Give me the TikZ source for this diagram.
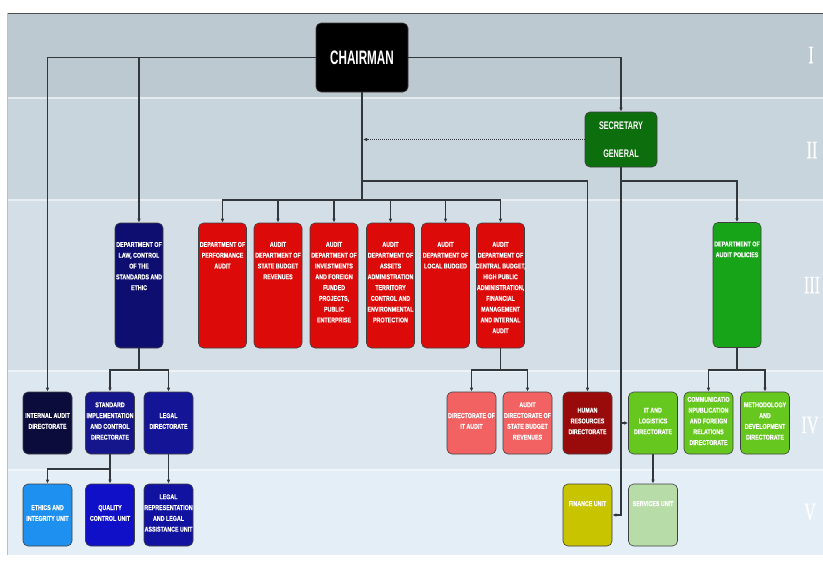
\documentclass[tikz,border=0pt]{standalone}
\usepackage{fontspec}
\setmainfont{Liberation Sans}
\newfontfamily\boxfont[FakeStretch=0.76,FakeBold=0.4]{Liberation Sans}
\newfontfamily\chairfont[FakeStretch=0.6]{Liberation Sans}
\newfontfamily\secfont[FakeStretch=0.66]{Liberation Sans}
\newfontfamily\romanfont[FakeStretch=0.65,FakeBold=0.5]{Liberation Serif}
\usetikzlibrary{arrows.meta}
\definecolor{bandI}{RGB}{189,201,209}
\definecolor{bandII}{RGB}{201,213,221}
\definecolor{bandIII}{RGB}{211,222,231}
\definecolor{bandIV}{RGB}{220,231,240}
\definecolor{bandV}{RGB}{228,238,247}
\definecolor{cLine}{RGB}{50,55,60}
\definecolor{cSec}{RGB}{12,110,12}
\definecolor{cLaw}{RGB}{14,14,112}
\definecolor{cRed}{RGB}{221,10,10}
\definecolor{cPol}{RGB}{24,164,24}
\definecolor{cIA}{RGB}{12,12,60}
\definecolor{cStd}{RGB}{22,22,140}
\definecolor{cLegal}{RGB}{20,20,150}
\definecolor{cEth}{RGB}{30,144,240}
\definecolor{cQC}{RGB}{16,16,200}
\definecolor{cLRep}{RGB}{18,18,160}
\definecolor{cSalmon}{RGB}{242,98,98}
\definecolor{cHR}{RGB}{153,10,10}
\definecolor{cLime}{RGB}{102,200,30}
\definecolor{cFin}{RGB}{200,196,0}
\definecolor{cServ}{RGB}{184,220,168}
\newcommand\tallbox[1]{\parbox[c][125pt][t]{48pt}{\centering\vspace*{19pt}#1}}
\newcommand\rowbox[1]{\parbox[c][62pt][c]{49pt}{\centering #1\par\vspace{4pt}}}
\newcommand\wideln[1]{\makebox[46pt][c]{#1}}
\tikzset{
  box/.style={draw=black!75, line width=0.6pt, rounded corners=5pt, inner sep=0pt,
    text=white, font=\boxfont\bfseries\fontsize{7}{10.8}\selectfont},
  line/.style={draw=cLine, line width=1.1pt},
  conn/.style={line, -{Latex[length=4pt,width=3.5pt]}},
  roman/.style={text=white, font=\romanfont\fontsize{25}{25}\selectfont, inner sep=0pt}
}
\begin{document}
\begin{tikzpicture}[x=1pt,y=-1pt]
\useasboundingbox (0,0) rectangle (823,563);
\fill[white] (0,0) rectangle (823,563);
% bands
\fill[bandI] (7,13) rectangle (823,97);
\fill[bandII] (7,97) rectangle (823,199);
\fill[bandIII] (7,199) rectangle (823,370);
\fill[bandIV] (7,370) rectangle (823,469);
\fill[bandV] (7,469) rectangle (823,555);
\foreach \yy in {97,199,370,469} \draw[white, opacity=0.5, line width=1.5pt] (7,\yy+1) -- (823,\yy+1);
\draw[black!70, line width=0.9pt] (7,13) -- (823,13);
\draw[black!25, line width=0.8pt] (7,13) -- (7,555);
% roman numerals
\node[roman] (n1) at (811,55) {I};
\node[roman] (n2) at (812,150) {II};
\node[roman] (n3) at (812,285) {III};
\node[roman] (n4) at (810,425) {IV};
\node[roman] (n5) at (810,512) {V};
% level I, II
\node[box, fill=black, minimum width=92pt, minimum height=69pt, font=\chairfont\bfseries\fontsize{19.5}{20}\selectfont] (chair) at (362,57.5) {CHAIRMAN};
\node[box, fill=cSec, minimum width=72pt, minimum height=55pt, align=center, font=\secfont\bfseries\fontsize{11}{28}\selectfont] (sec) at (621,139.5) {SECRETARY\\GENERAL};
% level III
\node[box, fill=cLaw] (law) at (139,285.5) {\tallbox{DEPARTMENT OF\\LAW, CONTROL\\OF THE\\STANDARDS AND\\ETHIC}};
\node[box, fill=cRed] (r1) at (222.5,285.5) {\tallbox{DEPARTMENT OF\\PERFORMANCE\\AUDIT}};
\node[box, fill=cRed] (r2) at (278,285.5) {\tallbox{AUDIT\\DEPARTMENT OF\\STATE BUDGET\\REVENUES}};
\node[box, fill=cRed] (r3) at (334,285.5) {\tallbox{AUDIT\\DEPARTMENT OF\\INVESTMENTS\\AND FOREIGN\\FUNDED\\PROJECTS,\\PUBLIC\\ENTERPRISE}};
\node[box, fill=cRed] (r4) at (390.5,285.5) {\tallbox{AUDIT\\DEPARTMENT OF\\ASSETS\\\wideln{ADMINISTRATION}\\TERRITORY\\CONTROL AND\\\wideln{ENVIRONMENTAL}\\PROTECTION}};
\node[box, fill=cRed] (r5) at (445.5,285.5) {\tallbox{AUDIT\\DEPARTMENT OF\\LOCAL BUDGED}};
\node[box, fill=cRed] (r6) at (500.5,285.5) {\tallbox{AUDIT\\DEPARTMENT OF\\\wideln{CENTRAL BUDGET,}\\HIGH PUBLIC\\\wideln{ADMINISTRATION,}\\FINANCIAL\\MANAGEMENT\\AND INTERNAL\\AUDIT}};
\node[box, fill=cPol] (pol) at (737,285) {\tallbox{DEPARTMENT OF\\AUDIT POLICIES}};
% level IV
\node[box, fill=cIA] (ia) at (47.5,423) {\rowbox{\wideln{INTERNAL AUDIT}\\DIRECTORATE}};
\node[box, fill=cStd] (std) at (110,423) {\rowbox{STANDARD\\\wideln{IMPLEMENTATION}\\AND CONTROL\\DIRECTORATE}};
\node[box, fill=cLegal] (legal) at (168.5,423) {\rowbox{LEGAL\\DIRECTORATE}};
\node[box, fill=cSalmon] (itaud) at (471.5,423) {\rowbox{\wideln{DIRECTORATE OF}\\IT AUDIT}};
\node[box, fill=cSalmon] (sbr) at (527.5,423) {\rowbox{AUDIT\\\wideln{DIRECTORATE OF}\\STATE BUDGET\\REVENUES}};
\node[box, fill=cHR] (hr) at (587.5,423) {\rowbox{HUMAN\\RESOURCES\\DIRECTORATE}};
\node[box, fill=cLime] (itl) at (653,423) {\rowbox{IT AND\\LOGISTICS\\DIRECTORATE}};
\node[box, fill=cLime] (comm) at (708.5,423) {\rowbox{\wideln{COMMUNICATIO}\\\wideln{NPUBLICATION}\\AND FOREIGN\\RELATIONS\\DIRECTORATE}};
\node[box, fill=cLime] (meth) at (765,423) {\rowbox{METHODOLOGY\\AND\\DEVELOPMENT\\DIRECTORATE}};
% level V
\node[box, fill=cEth] (eth) at (47.5,515) {\rowbox{ETHICS AND\\\wideln{INTEGRITY UNIT}}};
\node[box, fill=cQC] (qc) at (110,515) {\rowbox{QUALITY\\CONTROL UNIT}};
\node[box, fill=cLRep] (lrep) at (168.5,515) {\rowbox{LEGAL\\\wideln{REPRESENTATION}\\AND LEGAL\\\wideln{ASSISTANCE UNIT}}};
\node[box, fill=cFin] (fin) at (587.5,515) {\rowbox{FINANCE UNIT\\[8pt]\mbox{}}};
\node[box, fill=cServ] (serv) at (653,515) {\rowbox{SERVICES UNIT\\[8pt]\mbox{}}};
% junctions
\coordinate (busR) at (362,200);
\coordinate (busH) at (362,181);
\coordinate (secJ) at (621,181);
\coordinate (dotT) at (363,139.5);
\coordinate (lawJ) at (139,370);
\coordinate (stdJ) at (110,469);
\coordinate (r6J) at (500.5,370);
\coordinate (polJ) at (737,370);
% connectors
\draw[conn] (chair.west) -| (ia.north);
\draw[conn] (chair.west) -| (law.north);
\draw[conn] (chair.east) -| (sec.north);
\draw[line] (chair.south) -- (busR);
\foreach \r in {r1,r2,r3,r4,r5,r6} \draw[conn] (busR) -| (\r.north);
\draw[conn] (busH) -| (hr.north);
\draw[line, line width=1.3pt, dash pattern=on 1pt off 1pt, -{Latex[length=4pt,width=3.5pt]}] (sec.west) -- (dotT);
\draw[line] (sec.south) -- (secJ);
\draw[conn] (secJ) -| (pol.north);
\draw[conn] (sec.south) |- (fin.east);
\draw[conn] (sec.south |- itl.west) -- (itl.west);
\draw[line] (law.south) -- (lawJ);
\draw[conn] (lawJ) -| (std.north);
\draw[conn] (lawJ) -| (legal.north);
\draw[line] (std.south) -- (stdJ);
\draw[conn] (stdJ) -| (eth.north);
\draw[conn] (stdJ) -- (qc.north);
\draw[conn] (legal.south) -- (lrep.north);
\draw[line] (r6.south) -- (r6J);
\draw[conn] (r6J) -| (itaud.north);
\draw[conn] (r6J) -| (sbr.north);
\draw[line] (pol.south) -- (polJ);
\draw[conn] (polJ) -| (comm.north);
\draw[conn] (polJ) -| (meth.north);
\draw[conn] (itl.south) -- (serv.north);
\end{tikzpicture}
\end{document}
